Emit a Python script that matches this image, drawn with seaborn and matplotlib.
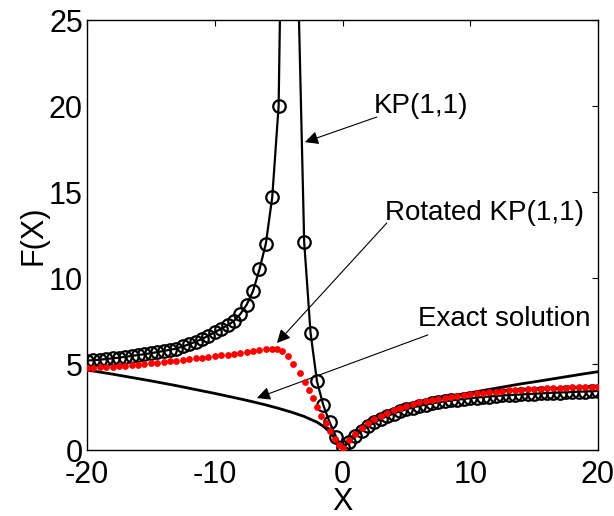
import numpy as np
import pandas as pd
import matplotlib
matplotlib.use("Agg")
import matplotlib.pyplot as plt
import seaborn as sns

# ---- data ----
kp_x = [-20, -19.5, -19, -18.5, -18, -17.5, -17, -16.5, -16, -15.5, -15, -14.5, -14, -13.5,
        -13, -12.5, -12, -11.5, -11, -10.5, -10, -9.5, -9, -8.5, -8, -7.5, -7, -6.5, -6, -5.5,
        -5, -4.5, -4, -3.5, -3, -2.5, -2, -1.5, -1, -0.5, 0, 0.5, 1, 1.5, 2, 2.5, 3, 3.5, 4,
        4.5, 5, 5.5, 6, 6.5, 7, 7.5, 8, 8.5, 9, 9.5, 10, 10.5, 11, 11.5, 12, 12.5, 13, 13.5,
        14, 14.5, 15, 15.5, 16, 16.5, 17, 17.5, 18, 18.5, 19, 19.5, 20]
kp_y = [5.20, 5.22, 5.25, 5.29, 5.33, 5.37, 5.42, 5.47, 5.52, 5.57, 5.63, 5.69, 5.76, 5.83,
        5.90, 6.02, 6.15, 6.30, 6.45, 6.65, 6.85, 7.05, 7.25, 7.50, 7.90, 8.45, 9.25, 10.5, 12.0, 14.7,
        20.0, 45.0, 200.0, 28.0, 12.1, 6.8, 4.0, 2.6, 1.6, 0.75, 0.15, 0.45, 0.80, 1.10, 1.38, 1.60, 1.80, 1.97, 2.12,
        2.25, 2.37, 2.47, 2.56, 2.64, 2.71, 2.77, 2.83, 2.88, 2.93, 2.97, 3.01, 3.05, 3.08, 3.11, 3.14, 3.17, 3.19, 3.21,
        3.23, 3.25, 3.27, 3.29, 3.31, 3.33, 3.34, 3.36, 3.37, 3.39, 3.40, 3.42, 3.43]

rot_x = [-20, -19.5, -19, -18.5, -18, -17.5, -17, -16.5, -16, -15.5, -15, -14.5, -14, -13.5,
         -13, -12.5, -12, -11.5, -11, -10.5, -10, -9.5, -9, -8.5, -8, -7.5, -7, -6.5, -6, -5.5,
         -5.15, -4.75, -4.3, -3.85, -3.35, -2.95, -2.6, -2.3, -2.0, -1.65, -1.3, -0.95, -0.6, -0.25, 0.05,
         0.5, 1, 1.5, 2, 2.5, 3, 3.5, 4, 4.5, 5, 5.5, 6, 6.5, 7, 7.5, 8, 8.5, 9, 9.5, 10, 10.5,
         11, 11.5, 12, 12.5, 13, 13.5, 14, 14.5, 15, 15.5, 16, 16.5, 17, 17.5, 18, 18.5, 19, 19.5, 20]
rot_y = [4.75, 4.77, 4.80, 4.82, 4.85, 4.88, 4.91, 4.94, 4.97, 5.01, 5.05, 5.08, 5.12, 5.16,
         5.20, 5.24, 5.28, 5.32, 5.37, 5.41, 5.45, 5.50, 5.55, 5.60, 5.66, 5.72, 5.78, 5.83, 5.86, 5.87,
         5.85, 5.76, 5.45, 5.00, 4.45, 3.95, 3.50, 3.00, 2.50, 2.00, 1.55, 1.10, 0.65, 0.30, 0.10,
         0.60, 0.95, 1.28, 1.55, 1.78, 1.98, 2.16, 2.32, 2.46, 2.58, 2.68, 2.77, 2.85, 2.92, 2.99, 3.05, 3.11, 3.16, 3.21, 3.25, 3.29,
         3.33, 3.36, 3.40, 3.43, 3.46, 3.48, 3.51, 3.53, 3.55, 3.57, 3.59, 3.60, 3.62, 3.63, 3.64, 3.65, 3.66, 3.67, 3.68]

exact_x = [-20, -19, -18, -17, -16, -15, -14, -13, -12, -11, -10, -9, -8, -7, -6, -5, -4, -3, -2,
           -1.5, -1, -0.5, 0, 0.5, 1, 1.5, 2, 3, 4, 5, 6, 7, 8, 9, 10, 11, 12, 13, 14, 15, 16, 17, 18, 19, 20]
exact_y = [4.65, 4.53, 4.41, 4.28, 4.15, 4.02, 3.88, 3.74, 3.59, 3.44, 3.29, 3.13, 2.97, 2.80, 2.62, 2.42, 2.20, 1.95, 1.62,
           1.38, 1.05, 0.60, 0.05, 0.55, 0.95, 1.25, 1.50, 1.90, 2.22, 2.48, 2.70, 2.88, 3.05, 3.20, 3.33, 3.46, 3.59, 3.72, 3.85, 3.96, 4.08, 4.20, 4.32, 4.44, 4.55]

x_ticks = [-20, -10, 0, 10, 20]
y_ticks = [0, 5, 10, 15, 20, 25]

# ---- style ----
sns.set_theme(style="white")
plt.rcParams["font.family"] = ["Liberation Sans", "DejaVu Sans"]

fig = plt.figure(figsize=(6.14, 5.16), dpi=100)
ax = fig.add_axes([87 / 614, 1 - 450 / 516, (598 - 87) / 614, (450 - 20) / 516])

df_exact = pd.DataFrame({"x": exact_x, "y": exact_y})
df_kp = pd.DataFrame({"x": kp_x, "y": kp_y})
df_rot = pd.DataFrame({"x": rot_x, "y": rot_y})

sns.lineplot(data=df_exact, x="x", y="y", ax=ax, color="black", lw=2.0,
             estimator=None, sort=False, zorder=2)
sns.lineplot(data=df_kp, x="x", y="y", ax=ax, color="black", lw=1.6,
             marker="o", markersize=9, markerfacecolor="none", markeredgecolor="black",
             markeredgewidth=1.6, estimator=None, sort=False, zorder=3)
sns.scatterplot(data=df_rot, x="x", y="y", ax=ax, color="red", s=24,
                linewidth=0, marker="o", zorder=4)

ax.set_xlim(-20, 20)
ax.set_ylim(0, 25)
ax.set_xticks(x_ticks)
ax.set_yticks(y_ticks)
ax.set_xticklabels([str(t) for t in x_ticks])
ax.set_yticklabels([str(t) for t in y_ticks])

for s in ax.spines.values():
    s.set_visible(True)
    s.set_color("black")
    s.set_linewidth(1.0)

ax.tick_params(direction="in", length=4, width=0.8, top=True, right=True,
               labelsize=22, colors="black", pad=3)
ax.tick_params(axis="x", pad=7)
for lab in ax.get_yticklabels():
    lab.set_verticalalignment("center_baseline")
ax.set_xlabel("X", fontsize=22, labelpad=-2, color="black")
ax.set_ylabel("F(X)", fontsize=22, labelpad=0, color="black")

arrow = dict(arrowstyle="-|>", color="black", lw=0.8, mutation_scale=20,
             shrinkA=0, shrinkB=0)
ax.annotate("", xy=(-2.94, 17.9), xytext=(2.69, 19.36), arrowprops=arrow)
ax.annotate("", xy=(-5.13, 6.22), xytext=(3.47, 13.2), arrowprops=arrow)
ax.annotate("", xy=(-6.70, 3.02), xytext=(6.68, 6.69), arrowprops=arrow)

ax.text(2.45, 20.0, "KP(1,1)", fontsize=20, ha="left", va="center", color="black")
ax.text(3.35, 13.8, "Rotated KP(1,1)", fontsize=20, ha="left", va="center", color="black")
ax.text(5.9, 7.6, "Exact solution", fontsize=20, ha="left", va="center", color="black")

fig.savefig("out.png", dpi=100)
